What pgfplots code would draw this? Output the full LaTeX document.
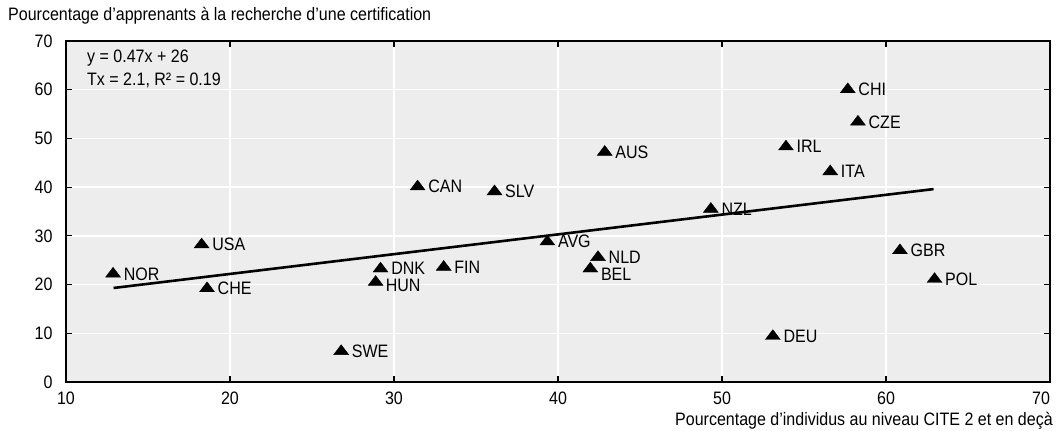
\documentclass[border=0pt]{standalone}
\usepackage{fontspec}
\setmainfont{Liberation Sans}[FakeStretch=0.89]
\usepackage{pgfplots}
\usepackage{pgfplotstable}
\pgfplotsset{compat=1.18}
\definecolor{bg}{RGB}{237,237,237}

\pgfplotstableread{
x y label
12.87 22.2 NOR
18.27 28.2 USA
18.6 19.2 CHE
29.18 23.25 DNK
26.78 6.3 SWE
33.03 23.6 FIN
31.44 40.1 CAN
36.13 39.1 SLV
42.85 47.2 AUS
39.35 28.8 AVG
42.44 25.6 NLD
49.32 35.5 NZL
53.9 48.3 IRL
56.6 43.2 ITA
60.85 27.0 GBR
62.96 21.1 POL
53.1 9.4 DEU
57.67 60.05 CHI
58.29 53.4 CZE
}\main

\pgfplotstableread{
x y label
28.88 20.5 HUN
}\hun

\pgfplotstableread{
x y label
41.97 23.25 BEL
}\bel

\begin{document}
\begin{tikzpicture}[font=\fontsize{18}{21}\selectfont]
\useasboundingbox (-66pt,-49pt) rectangle (995pt,382pt);
\begin{axis}[
  at={(0,0)}, anchor=south west,
  scale only axis, width=984pt, height=341pt,
  xmin=10, xmax=70, ymin=0, ymax=70,
  xtick={10,20,...,70}, ytick={0,10,...,70},
  xticklabels={10,20,30,40,50,60,\makebox[0pt][r]{70}},
  /pgf/number format/assume math mode=true,
  axis background/.style={fill=bg},
  grid=major, major grid style={white, line width=1.5pt},
  axis line style={black, line width=1.5pt},
  tick align=inside, major tick length=6pt,
  tick style={black, line width=1.2pt},
  xticklabel style={anchor=base, yshift=-23pt},
  yticklabel style={anchor=east, xshift=-10pt},
  clip=false,
  mk/.style={only marks, mark=triangle*, mark size=7.3pt,
    mark options={fill=black, draw=black, xscale=1.18, yscale=0.9},
    nodes near coords, point meta=explicit symbolic},
]
\addplot[black, line width=2.6pt] coordinates {(12.9,19.3) (62.9,39.6)};

\addplot[mk, nodes near coords style={anchor=west, inner sep=0pt, xshift=10.5pt, text=black}]
  table[x=x, y=y, meta=label] {\main};

\addplot[mk, nodes near coords style={anchor=west, inner sep=0pt, xshift=10pt, yshift=-3pt, text=black}]
  table[x=x, y=y, meta=label] {\hun};

\addplot[mk, nodes near coords style={anchor=west, inner sep=0pt, xshift=10.5pt, yshift=-6pt, text=black}]
  table[x=x, y=y, meta=label] {\bel};

\node[anchor=base west, inner sep=0pt, xshift=21pt, yshift=-21pt] at (rel axis cs:0,1) {y = 0.47x + 26};
\node[anchor=base west, inner sep=0pt, xshift=21pt, yshift=-44pt] at (rel axis cs:0,1) {Tx = 2.1, R² = 0.19};
\node[anchor=base west, inner sep=0pt, xshift=-58pt, yshift=20pt] at (rel axis cs:0,1) {Pourcentage d’apprenants à la recherche d’une certification};
\node[anchor=base east, inner sep=0pt, xshift=3pt, yshift=-44pt] at (rel axis cs:1,0) {Pourcentage d’individus au niveau CITE 2 et en deçà};
\end{axis}
\end{tikzpicture}
\end{document}
